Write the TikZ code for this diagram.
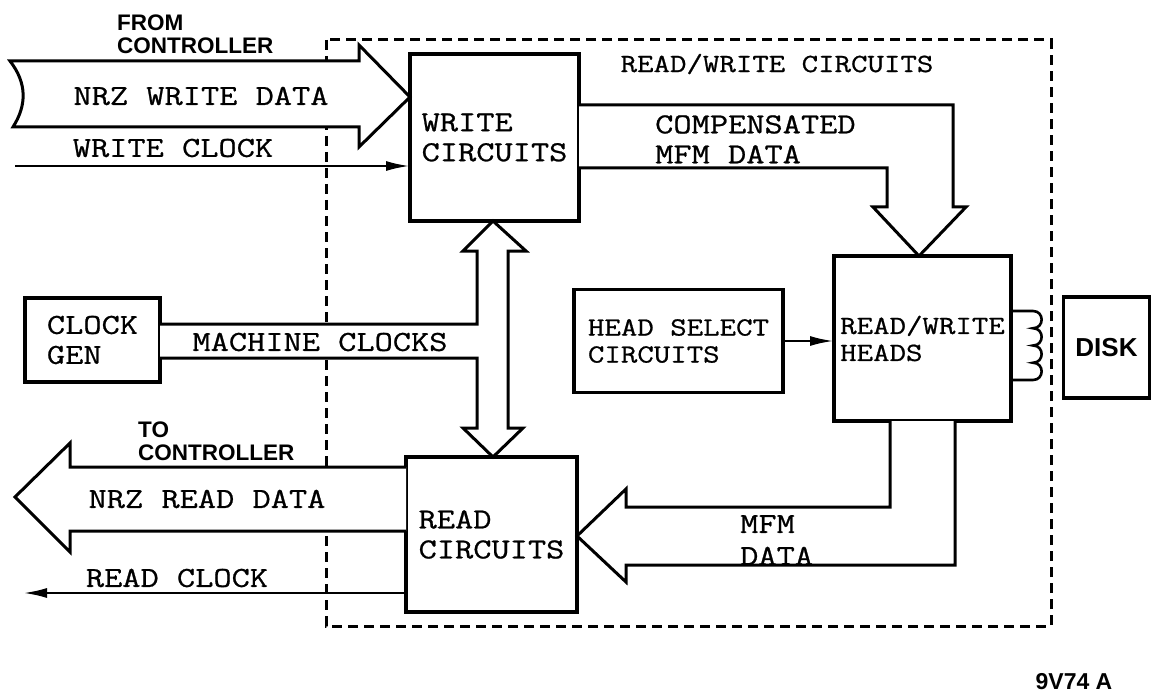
\documentclass[tikz,border=0pt]{standalone}
\usepackage{fontspec}
\usetikzlibrary{arrows.meta,calc}
\newfontfamily\tyfont[FakeStretch=1.22,FakeBold=0.8]{Latin Modern Mono}
\newfontfamily\lett{Liberation Sans}
\newcommand\fbig{\tyfont\fontsize{29}{30}\selectfont}
\newcommand\fsml{\tyfont\fontsize{26.2}{27}\selectfont}
\newcommand\flet{\lett\bfseries\fontsize{22.5}{23}\selectfont}
\begin{document}
\begin{tikzpicture}[x=1pt,y=-1pt,
  box/.style={draw, line width=3.5pt, inner sep=0pt, outer sep=0pt, align=left, font=\fbig},
  sig/.style={line width=2.6pt},
  tipx/.style={-{Latex[length=24pt,width=10pt]}},
  bus/.style={line width=3pt, line join=miter},
  lbl/.style={inner sep=0pt, font=\fbig, align=left},
  slbl/.style={inner sep=0pt, font=\fsml, align=left},
  hand/.style={inner sep=0pt, font=\flet, align=left},
  encl/.style={line width=3pt, dash pattern=on 10pt off 6pt}
]
\fill[white] (0,0) rectangle (1152,698);
\useasboundingbox (0,0) rectangle (1152,698);

% enclosure
\draw[encl] (326,40) rectangle (1051,626);

% boxes
\node[box, minimum width=169pt, minimum height=167pt] (wc) at (494.5,137.5) {WRITE\\CIRCUITS};
\node[box, minimum width=171pt, minimum height=155pt] (rc) at (491.5,534.5) {READ\\CIRCUITS};
\node[box, minimum width=177pt, minimum height=165pt, font=\fsml] (rw) at (922.5,338.5) {READ/WRITE\\HEADS};
\node[box, minimum width=209pt, minimum height=103pt, font=\fsml] (hs) at (678.5,341) {HEAD SELECT\\CIRCUITS};
\node[box, minimum width=135pt, minimum height=84pt] (cg) at (92.5,340) {CLOCK\\GEN};
\node[box, minimum width=86pt, minimum height=101pt, font=\lett\bfseries\fontsize{26}{28}\selectfont] (dk) at (1106.5,347.5) {DISK};

% NRZ write data bus arrow
\coordinate (nwl) at (10,61);
\filldraw[bus, fill=white] (nwl) -- (359,61) -- (359,45) -- (wc.west |- 0,97) -- (359,147) -- (359,127) -- (13,127)
  .. controls (27,105) and (27,83) .. (nwl) -- cycle;

% write clock
\coordinate (wclk) at (15,166);
\draw[sig, tipx] (wclk) -- (wc.west |- 0,166);

% compensated MFM data arrow
\fill[white] (wc.east |- 0,105) -- (953,105) -- (953,207) -- (966,207) -- (rw.north -| 919,0) -- (873,207) -- (887,207) -- (887,168) -- (wc.east |- 0,168) -- cycle;
\draw[bus] (wc.east |- 0,105) -- (953,105) -- (953,207) -- (966,207) -- (rw.north -| 919,0) -- (873,207) -- (887,207) -- (887,168) -- (wc.east |- 0,168);

% double arrow with machine clocks
\fill[white] (cg.east |- 0,324) -- (477,324) -- (477,251) -- (463,251) -- (wc.south -| 493,0) -- (526,251) -- (508,251) -- (508,428) -- (523,428) -- (rc.north -| 493,0) -- (463,428) -- (477,428) -- (477,358) -- (cg.east |- 0,358) -- cycle;
\draw[bus] (cg.east |- 0,324) -- (477,324) -- (477,251) -- (463,251) -- (wc.south -| 493,0) -- (526,251) -- (508,251) -- (508,428) -- (523,428) -- (rc.north -| 493,0) -- (463,428) -- (477,428) -- (477,358) -- (cg.east |- 0,358);

% head select to heads
\draw[sig, tipx] (hs.east) -- (hs.east -| rw.west);

% MFM data arrow
\fill[white] (rw.south -| 890,0) -- (890,507) -- (626,507) -- (626,489) -- (rc.east |- 0,536) -- (626,582) -- (626,565) -- (955,565) -- (rw.south -| 955,0) -- cycle;
\draw[bus] (rw.south -| 890,0) -- (890,507) -- (626,507) -- (626,489) -- (rc.east |- 0,536) -- (626,582) -- (626,565) -- (955,565) -- (rw.south -| 955,0);

% NRZ read data arrow
\coordinate (nrt) at (15,497);
\fill[white] (rc.west |- 0,467) -- (70,467) -- (70,443) -- (nrt) -- (70,552) -- (70,531) -- (rc.west |- 0,531) -- cycle;
\draw[bus] (rc.west |- 0,467) -- (70,467) -- (70,443) -- (nrt) -- (70,552) -- (70,531) -- (rc.west |- 0,531);

% read clock
\coordinate (rclk) at (23,593);
\draw[sig, tipx] (rc.west |- 0,593) -- (rclk);

% coil
\draw[sig] (rw.east |- 0,311) -- (1033,311)
  .. controls (1044.5,311) and (1044.5,328.25) .. (1033,328.25)
  .. controls (1044.5,328.25) and (1044.5,345.5) .. (1033,345.5)
  .. controls (1044.5,345.5) and (1044.5,362.75) .. (1033,362.75)
  .. controls (1044.5,362.75) and (1044.5,380) .. (1033,380)
  -- (rw.east |- 0,380);

% labels
\node[hand, anchor=north west] (from) at (117,15) {FROM\\CONTROLLER};
\node[hand, anchor=north west] (to) at (138,422) {TO\\CONTROLLER};
\node[lbl] (nwd) at (201,96) {NRZ WRITE DATA};
\node[lbl] (wcl) at (173,148) {WRITE CLOCK};
\node[slbl] (rwc) at (777,64) {READ/WRITE CIRCUITS};
\node[lbl, anchor=north west] (cmp) at (655,115) {COMPENSATED\\MFM DATA};
\node[lbl] (mcl) at (320,342) {MACHINE CLOCKS};
\node[lbl] (nrd) at (207,499) {NRZ READ DATA};
\node[lbl] (rcl) at (177,578) {READ CLOCK};
\node[lbl, anchor=north west, font=\tyfont\fontsize{29}{32}\selectfont] (mfm) at (740,515) {MFM\\DATA};
\node[inner sep=0pt, font=\lett\bfseries\fontsize{23}{24}\selectfont] (fig) at (1074,682) {9V74 A};
\end{tikzpicture}
\end{document}
